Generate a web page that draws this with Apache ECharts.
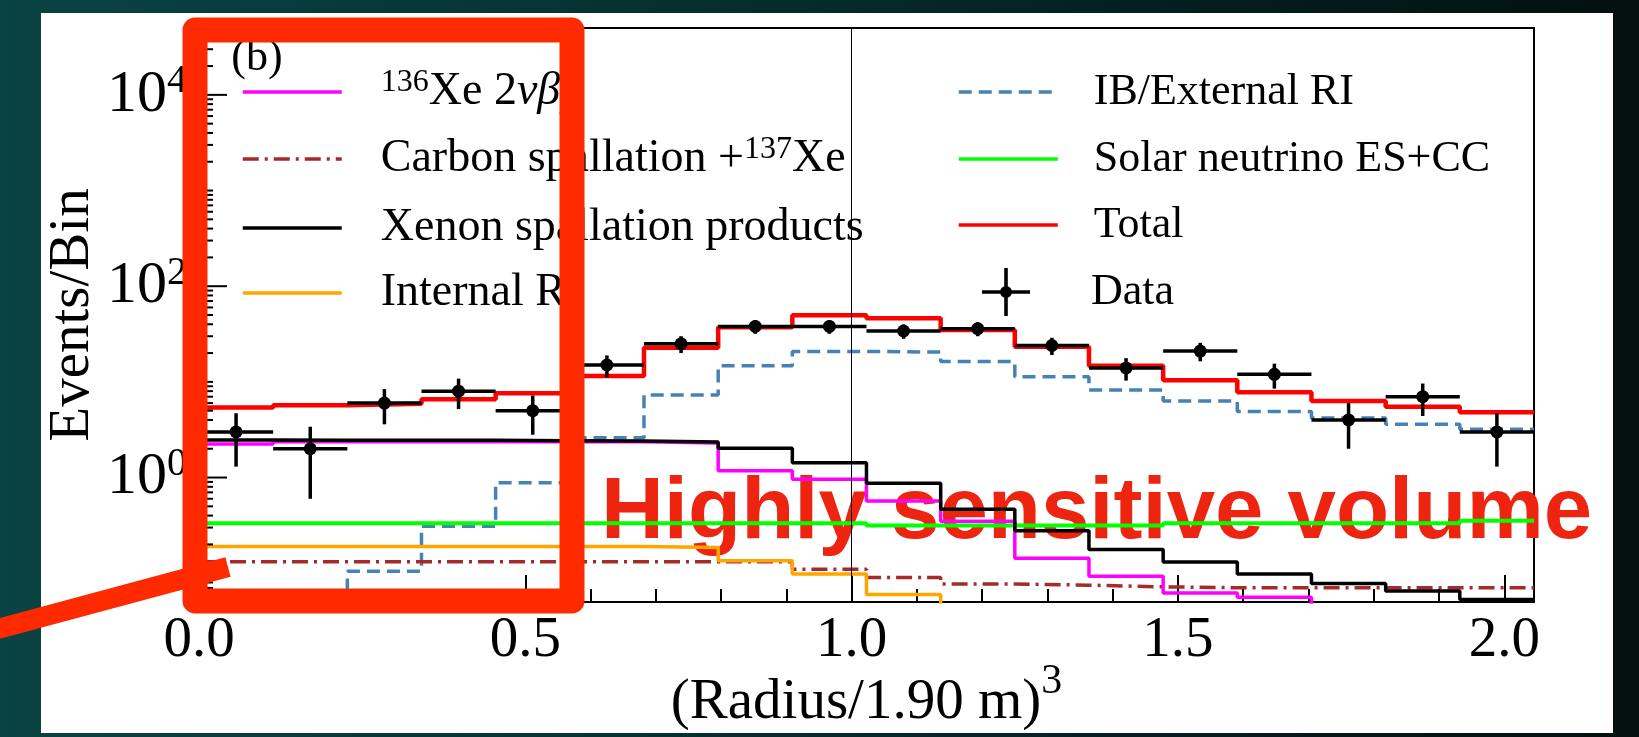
<!DOCTYPE html>
<html>
<head>
<meta charset="utf-8">
<title>Events vs radius</title>
<script src="https://cdn.jsdelivr.net/npm/echarts@6/dist/echarts.min.js"></script>
<style>
    html, body { margin: 0; padding: 0; }
    body {
        width: 1639px; height: 737px; overflow: hidden; position: relative;
        background: linear-gradient(90deg, #0a4343 0%, #073636 30%, #042222 65%, #031010 100%);
    }
    .panel { position: absolute; left: 41px; top: 13px; width: 1572px; height: 720px; background: #fff; }
    #chart { position: absolute; left: 0; top: 0; width: 1639px; height: 737px; }
</style>
</head>
<body>
<div class="panel"></div>
<div id="chart"></div>
<script>
    // bin edges of (R/1.90 m)^3, 18 bins
    var binEdges = [0, 0.1136, 0.2273, 0.3409, 0.4545, 0.5682, 0.6818, 0.7955, 0.9091, 1.0227,
                    1.1364, 1.25, 1.3636, 1.4773, 1.5909, 1.7045, 1.8182, 1.9318, 2.0455];

    // expected events per bin, one value per bin
    var xeDoubleBeta = [2.24, 2.37, 2.37, 2.37, 2.37, 2.37, 2.3, 1.18, 0.96, 0.57, 0.35, 0.143, 0.093, 0.062, 0.056, 0.03, 0.03, 0.03];
    var carbonSpall  = [0.132, 0.132, 0.132, 0.132, 0.132, 0.132, 0.132, 0.132, 0.11, 0.09, 0.077, 0.075, 0.072, 0.0705, 0.0705, 0.0705, 0.0705, 0.0705];
    var xenonSpall   = [2.47, 2.45, 2.45, 2.45, 2.43, 2.41, 2.35, 2.02, 1.43, 0.87, 0.465, 0.278, 0.177, 0.131, 0.098, 0.078, 0.065, 0.053];
    var internalRI   = [0.19, 0.19, 0.19, 0.19, 0.19, 0.19, 0.186, 0.135, 0.098, 0.06, 0.03, 0.03, 0.03, 0.03, 0.03, 0.03, 0.03, 0.03];
    var externalRI   = [0.03, 0.03, 0.105, 0.31, 0.88, 2.6, 7.3, 14.7, 20.8, 20.5, 16.3, 11.3, 8.2, 6.3, 4.9, 4.2, 3.6, 3.2];
    var solarNu      = [0.332, 0.332, 0.332, 0.332, 0.332, 0.332, 0.332, 0.332, 0.332, 0.316, 0.316, 0.316, 0.316, 0.332, 0.332, 0.332, 0.332, 0.353];
    var totalExp     = [5.4, 5.7, 5.9, 6.6, 7.6, 11.5, 22.8, 37.3, 49.8, 46.3, 34.9, 23.3, 14.7, 10.4, 7.8, 6.3, 5.5, 4.8];

    // observed events and their error bars
    var dataCounts = [3, 2, 6, 8, 5, 15, 25, 38, 38, 34, 36, 24, 14, 21, 12, 4, 7, 3];
    var dataErr    = [1.7, 1.4, 2.4, 2.8, 2.2, 3.9, 5.0, 6.2, 6.2, 5.8, 6.0, 4.9, 3.7, 4.6, 3.5, 2.0, 2.6, 1.7];

    var yMajorTicks = [1, 100, 10000];
    var xTickLabels = ['0.0', '0.5', '1.0', '1.5', '2.0'];

    var serif = 'Liberation Serif';

    // histogram outline: a point on every left edge plus the closing right edge
    function stepData(vals) {
        var pts = vals.map(function (v, i) { return [binEdges[i], v]; });
        pts.push([binEdges[vals.length], vals[vals.length - 1]]);
        return pts;
    }

    function stepSeries(name, vals, color, width, type) {
        return {
            name: name, type: 'line', step: 'end', symbol: 'none', showSymbol: false,
            data: stepData(vals), clip: true, z: 3,
            lineStyle: { color: color, width: width, type: type || 'solid' },
            itemStyle: { color: color }
        };
    }

    // y ticks: long ones on 10^0, 10^2, 10^4, short ones on the rest
    var yTicks = [];
    for (var k = -2; k <= 4; k++) {
        for (var m = 1; m <= 9; m++) {
            var v = m * Math.pow(10, k);
            if (v <= 0.05 || v >= 50000) continue;
            var major = yMajorTicks.indexOf(v) >= 0;
            yTicks.push([0, v, major ? 28 : 14]);
        }
    }

    function richFor(size) {
        return {
            t:   { fontFamily: serif, fontSize: size, lineHeight: 50, color: '#000' },
            it:  { fontFamily: serif, fontSize: size, lineHeight: 50, fontStyle: 'italic', color: '#000' },
            sup: { fontFamily: serif, fontSize: 32, lineHeight: 30, verticalAlign: 'top', color: '#000' },
            sp:  { width: 34 },
            sp2: { width: 31 },
            sp3: { width: 56 }
        };
    }
    var legendLabels = {
        'Xe136': '{sp| }{sup|136}{t|Xe 2}{it|νββ}',
        'Carbon': '{sp| }{t|Carbon spallation +}{sup|137}{t|Xe}',
        'Xenon': '{sp| }{t|Xenon spallation products}',
        'Internal': '{sp| }{t|Internal RI}',
        'External': '{sp2| }{t|IB/External RI}',
        'Solar': '{sp2| }{t|Solar neutrino ES+CC}',
        'Total': '{sp2| }{t|Total}',
        'Data': '{sp3| }{t|Data}'
    };

    // one legend block per entry so each row sits where the reference puts it
    function legendAt(name, left, top, size, w, h, icon) {
        var item = { name: name };
        if (icon) item.icon = icon;
        return {
            data: [item], left: left, top: top, padding: 0,
            itemWidth: w, itemHeight: h, selectedMode: false,
            // the line icon gets a round marker in its middle: hide it
            itemStyle: { opacity: icon ? 1 : 0 },
            lineStyle: { width: 3.5 },
            formatter: function (n) { return legendLabels[n]; },
            textStyle: { fontFamily: serif, fontSize: size, color: '#000', rich: richFor(size) }
        };
    }

    var crossIcon = 'path://M0,22.2H48V25.8H0Z M22.2,0H25.8V48H22.2Z M18,24A6,6 0 1 1 30,24A6,6 0 1 1 18,24Z';

    var chart = echarts.init(document.getElementById('chart'));
    var option = {
        animation: false,
        backgroundColor: 'transparent',
        grid: {
            left: 199, top: 28, width: 1335, height: 574,
            outerBoundsMode: 'none', containLabel: false,
            show: true, borderColor: '#000', borderWidth: 2, backgroundColor: 'transparent'
        },
        legend: [
            legendAt('Xe136', 241, 67, 46, 99, 14),
            legendAt('Carbon', 241, 134, 46, 99, 14),
            legendAt('Xenon', 241, 205, 46, 99, 14),
            legendAt('Internal', 241, 270, 46, 99, 14),
            legendAt('External', 957, 70, 44, 99, 14),
            legendAt('Solar', 957, 137, 44, 99, 14),
            legendAt('Total', 957, 203, 44, 99, 14),
            legendAt('Data', 982, 268, 44, 48, 48, crossIcon)
        ],
        xAxis: [{
            type: 'value', min: 0, max: 2.0455, interval: 0.5,
            axisLine: { show: true, lineStyle: { color: '#000', width: 2 } },
            axisTick: { show: true, inside: true, length: 27, lineStyle: { color: '#000', width: 2 } },
            splitLine: { show: false },
            axisLabel: {
                margin: 11, showMaxLabel: false, color: '#000', fontFamily: serif, fontSize: 57,
                formatter: function (v) { return xTickLabels[Math.round(v / 0.5)] || ''; }
            },
            name: '{m|(Radius/1.90 m)}{sup|3}', nameLocation: 'middle', nameGap: 59,
            nameMoveOverlap: false,
            nameTextStyle: {
                fontFamily: serif, fontSize: 57, color: '#000',
                rich: {
                    m: { fontFamily: serif, fontSize: 57, lineHeight: 84, color: '#000' },
                    sup: { fontFamily: serif, fontSize: 42, lineHeight: 36, verticalAlign: 'top', color: '#000' }
                }
            }
        }, {
            type: 'value', min: 0, max: 2.0455, interval: 0.1, position: 'bottom',
            axisLine: { show: false },
            axisTick: { show: true, inside: true, length: 13, lineStyle: { color: '#000', width: 2 } },
            axisLabel: { show: false },
            splitLine: { show: false }
        }],
        yAxis: {
            type: 'log', logBase: 10, min: 0.05, max: 50000,
            axisLine: { show: true, lineStyle: { color: '#000', width: 2 } },
            axisTick: { show: false },
            splitLine: { show: false },
            axisLabel: {
                margin: 12, color: '#000',
                formatter: function (v) {
                    var e = Math.round(Math.log10(v));
                    if (Math.abs(Math.log10(v) - e) > 1e-6 || e % 2 !== 0 || e < 0) return '';
                    return '{b|10}{s|' + e + '}';
                },
                rich: {
                    b: { fontFamily: serif, fontSize: 60, lineHeight: 66, color: '#000' },
                    s: { fontFamily: serif, fontSize: 40, lineHeight: 36, verticalAlign: 'top', color: '#000' }
                }
            },
            name: 'Events/Bin', nameLocation: 'middle', nameGap: 97,
            nameMoveOverlap: false,
            nameTextStyle: { fontFamily: serif, fontSize: 57, color: '#000' }
        },
        graphic: [
            { type: 'text', z: 1, style: { text: '(b)', x: 257, y: 58, align: 'center', verticalAlign: 'middle',
                font: '44px "Liberation Serif"', fill: '#000' } },
            { type: 'text', z: 1, style: { text: 'Highly sensitive volume', x: 601, y: 514, align: 'left', verticalAlign: 'middle',
                font: 'bold 87px "Liberation Sans"', fill: '#ec2410' } },
            { type: 'rect', z: 100, shape: { x: 195, y: 30, width: 377, height: 571 },
                style: { fill: 'none', stroke: '#ff2a00', lineWidth: 25, lineJoin: 'round' } },
            { type: 'line', z: 100, shape: { x1: -10, y1: 631, x2: 228, y2: 567 },
                style: { stroke: '#ff2a00', lineWidth: 20 } }
        ],
        series: [
            {
                type: 'custom', silent: true, z: 4,
                data: yTicks, encode: { x: 0, y: 1 },
                renderItem: function (params, api) {
                    var p = api.coord([0, api.value(1)]);
                    return { type: 'line', shape: { x1: p[0], y1: p[1], x2: p[0] + api.value(2), y2: p[1] },
                             style: { stroke: '#000', lineWidth: 2 } };
                }
            },
            stepSeries('External', externalRI, '#4682b4', 3.5, [13, 7]),
            stepSeries('Solar', solarNu, '#00ff00', 4),
            stepSeries('Carbon', carbonSpall, '#a52a2a', 3.5, [16, 6, 3, 6]),
            stepSeries('Internal', internalRI, '#ffa500', 3.5),
            stepSeries('Xe136', xeDoubleBeta, '#ff00ff', 3.5),
            stepSeries('Xenon', xenonSpall, '#000000', 3.5),
            Object.assign(stepSeries('Total', totalExp, '#ff0000', 4.5), {
                markLine: {
                    silent: true, symbol: ['none', 'none'], label: { show: false },
                    lineStyle: { color: '#000', width: 1, type: 'solid' },
                    data: [{ xAxis: 1.0 }]
                }
            }),
            {
                name: 'Data', type: 'custom', z: 5,
                itemStyle: { color: '#000' },
                data: dataCounts.map(function (n, i) {
                    return [binEdges[i], binEdges[i + 1], (binEdges[i] + binEdges[i + 1]) / 2, n, n - dataErr[i], n + dataErr[i]];
                }),
                encode: { x: [0, 1, 2], y: [3, 4, 5] },
                renderItem: function (params, api) {
                    var xc = api.value(2), y = api.value(3);
                    var pl = api.coord([api.value(0), y]), pr = api.coord([api.value(1), y]);
                    var pt = api.coord([xc, api.value(5)]), pb = api.coord([xc, api.value(4)]);
                    var pc = api.coord([xc, y]);
                    var st = { stroke: '#000', lineWidth: 3.5 };
                    return { type: 'group', children: [
                        { type: 'line', shape: { x1: pl[0], y1: pl[1], x2: pr[0], y2: pr[1] }, style: st },
                        { type: 'line', shape: { x1: pt[0], y1: pt[1], x2: pb[0], y2: pb[1] }, style: st },
                        { type: 'circle', shape: { cx: pc[0], cy: pc[1], r: 6.5 }, style: { fill: '#000' } }
                    ] };
                }
            }
        ]
    };
    chart.setOption(option);
</script>
</body>
</html>
